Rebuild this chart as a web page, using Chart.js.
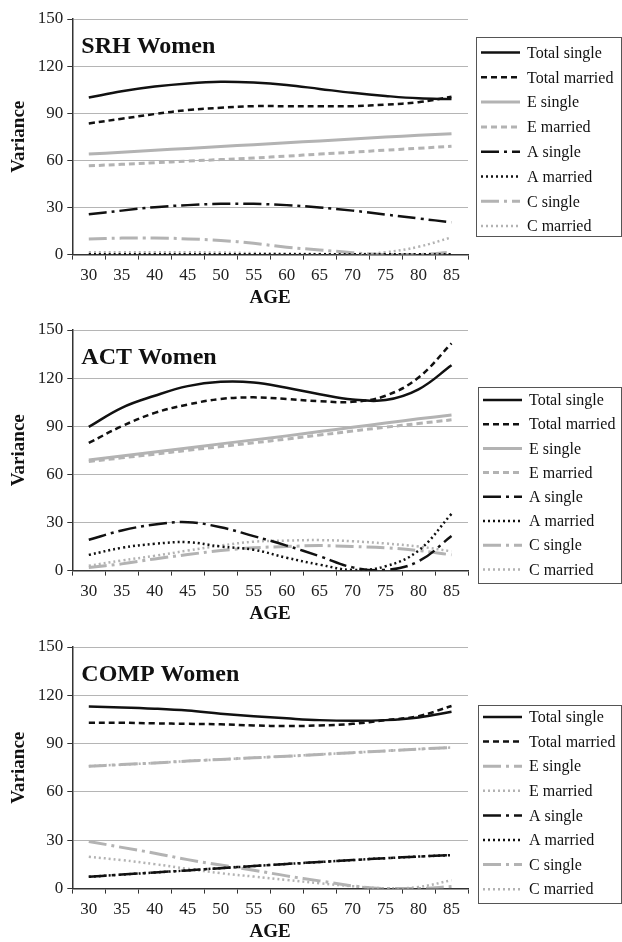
<!DOCTYPE html>
<html>
<head>
<meta charset="utf-8">
<script src="https://cdn.jsdelivr.net/npm/chart.js@4.4.1/dist/chart.umd.min.js"></script>
<style>
  body { margin: 0; background: #fff; width: 622px; height: 942px; overflow: hidden; position: relative; }
  canvas { position: absolute; left: 0; }
</style>
</head>
<body>
<canvas id="srh" width="622" height="314" style="top:0"></canvas>
<canvas id="act" width="622" height="320" style="top:310px"></canvas>
<canvas id="comp" width="622" height="322" style="top:626px"></canvas>
<script>
// Data
const ages = ['30', '35', '40', '45', '50', '55', '60', '65', '70', '75', '80', '85'];
const seriesNames = ['Total single', 'Total married', 'E single', 'E married', 'A single', 'A married', 'C single', 'C married'];
const yTicks = [0, 30, 60, 90, 120, 150];

// SRH Women
const srhTotalSingle  = [100, 104, 107, 109, 110, 109.5, 108, 105.5, 103, 101, 99.5, 99];
const srhTotalMarried = [83.5, 86.5, 89.5, 92, 93.5, 94.5, 94.5, 94.5, 94.5, 95.5, 97, 100.5];
const srhESingle      = [64, 65.2, 66.4, 67.6, 68.8, 70, 71.2, 72.4, 73.6, 74.8, 76, 77];
const srhEMarried     = [56.5, 57.5, 58.5, 59.5, 60.5, 61.5, 62.7, 64, 65.2, 66.5, 67.7, 69];
const srhASingle      = [25.7, 28, 30.2, 31.5, 32.3, 32.3, 31.5, 30, 28, 25.5, 23, 20.6];
const srhAMarried     = [0.3, 0.3, 0.3, 0.3, 0.3, 0.3, 0.3, 0.3, 0.3, 0.3, 0.3, 0.3];
const srhCSingle      = [10, 10.5, 10.6, 10, 9, 7.2, 4.7, 3, 1.2, 0, 0, 1.5];
const srhCMarried     = [1.5, 1.5, 1.5, 1.5, 1.3, 1, 0.7, 0.4, 0.2, 1.5, 5, 11];

// ACT Women
const actTotalSingle  = [89.6, 101.5, 109, 115, 117.7, 117.3, 114, 110, 106.7, 106.3, 113, 128];
const actTotalMarried = [79.6, 90, 98.3, 103.5, 107, 108, 107, 105.6, 105.2, 109, 120.4, 141.7];
const actESingle      = [69, 71.5, 74, 76.5, 79, 81.5, 84, 86.7, 89.3, 92, 94.6, 97];
const actEMarried     = [68, 70.3, 72.6, 75, 77.3, 79.7, 82, 84.5, 87, 89.4, 91.7, 94];
const actASingle      = [19.2, 25, 28.7, 30.2, 27, 21.5, 15.6, 9, 2, 0.4, 5.8, 21.5];
const actAMarried     = [9.8, 14.2, 16.7, 17.7, 15, 13, 8, 3.7, 0.4, 2.7, 12.5, 35.4];
const actCSingle      = [2, 4.2, 7.3, 10, 12.5, 14.2, 15, 15.6, 15, 14.2, 12.5, 9.8];
const actCMarried     = [3, 6.3, 9.2, 12.5, 15.6, 18, 18.7, 19, 18.3, 16.9, 15, 12];

// COMP Women
const compTotalSingle  = [113, 112.5, 111.7, 110.5, 108.6, 107, 105.7, 104.6, 104.2, 104.6, 106.3, 109.8];
const compTotalMarried = [103, 103, 102.6, 102.3, 102, 101.3, 100.9, 101.3, 102.3, 104.6, 107.1, 113.4];
const compESingle      = [76, 77, 78, 79.2, 80.2, 81.2, 82.2, 83.3, 84.4, 85.5, 86.6, 87.6];
const compEMarried     = [76, 77, 78, 79.2, 80.2, 81.2, 82.2, 83.3, 84.4, 85.5, 86.6, 87.6];
const compASingle      = [7.3, 8.7, 10, 11.3, 12.7, 14, 15.3, 16.5, 17.7, 18.9, 19.9, 20.8];
const compAMarried     = [7.3, 8.7, 10, 11.3, 12.7, 14, 15.3, 16.5, 17.7, 18.9, 19.9, 20.8];
const compCSingle      = [29.3, 25.6, 22, 18, 14.6, 11.4, 7.9, 4.8, 1.7, 0, 0, 1.3];
const compCMarried     = [19.8, 17.7, 15.2, 12.3, 9.6, 7.5, 5.4, 3.3, 1.5, 0.2, 1, 5.2];

// Line styles
const BLACK = '#111';
const GRAY = '#b3b3b3';
const SERIF = '"Liberation Serif", "Times New Roman", serif';
const solid = [];
const dashed = [6, 4];
const dashDot = [18, 5, 3, 5];
const dotted = [2, 3];

function style(color, dash, width) {
  return { color, dash, width };
}

const standardStyles = [
  style(BLACK, solid, 2.5),
  style(BLACK, dashed, 2.5),
  style(GRAY, solid, 3),
  style(GRAY, dashed, 3),
  style(BLACK, dashDot, 2.5),
  style(BLACK, dotted, 2.5),
  style(GRAY, dashDot, 3),
  style(GRAY, dotted, 2.5)
];

const compStyles = [
  style(BLACK, solid, 2.5),
  style(BLACK, dashed, 2.5),
  style(GRAY, dashDot, 3),
  style(GRAY, dotted, 2.5),
  style(BLACK, dashDot, 2.5),
  style(BLACK, dotted, 2.5),
  style(GRAY, dashDot, 3),
  style(GRAY, dotted, 2.5)
];

// Title in the plot, AGE label under the axis, boxed legend on the right
const panelDecor = {
  id: 'panelDecor',
  afterDraw(chart, args, opts) {
    const ctx = chart.ctx;
    const area = chart.chartArea;
    ctx.save();
    ctx.fillStyle = '#111';
    ctx.font = 'bold 24px ' + SERIF;
    ctx.textBaseline = 'alphabetic';
    ctx.fillText(opts.title, area.left + 9, area.top + 34);

    ctx.font = 'bold 19px ' + SERIF;
    ctx.textAlign = 'center';
    ctx.textBaseline = 'middle';
    ctx.fillText('AGE', (area.left + area.right) / 2, area.bottom + 43);
    ctx.textAlign = 'left';

    // legend box
    const box = opts.box;
    ctx.strokeStyle = '#555';
    ctx.lineWidth = 1;
    ctx.strokeRect(box.x + 0.5, box.y + 0.5, box.w, box.h);
    ctx.font = '16px ' + SERIF;
    chart.data.datasets.forEach((ds, i) => {
      const y = box.y + box.first + i * box.step;
      ctx.beginPath();
      ctx.strokeStyle = ds.borderColor;
      ctx.lineWidth = ds.borderWidth;
      ctx.setLineDash(ds.borderDash);
      ctx.moveTo(box.x + 5, y);
      ctx.lineTo(box.x + 44, y);
      ctx.stroke();
      ctx.setLineDash([]);
      ctx.fillStyle = '#111';
      ctx.fillText(ds.label, box.x + 51, y + 1);
    });
    ctx.restore();
  }
};

function makeChart(id, title, series, styles, padding, box) {
  const datasets = series.map((values, i) => ({
    label: seriesNames[i],
    data: values,
    borderColor: styles[i].color,
    borderDash: styles[i].dash,
    borderWidth: styles[i].width,
    pointRadius: 0,
    tension: 0.4,
    fill: false
  }));

  return new Chart(document.getElementById(id), {
    type: 'line',
    data: { labels: ages, datasets },
    options: {
      responsive: false,
      animation: false,
      layout: { padding },
      plugins: {
        legend: { display: false },
        tooltip: { enabled: false },
        panelDecor: { title, box }
      },
      scales: {
        x: {
          offset: true,
          grid: { display: true, offset: true, drawOnChartArea: false, tickLength: 5, color: '#333' },
          border: { color: '#333', width: 1.5 },
          ticks: { font: { family: SERIF, size: 17 }, color: '#222', padding: 6, maxRotation: 0 },
          title: { display: false }
        },
        y: {
          min: 0,
          max: 150,
          afterBuildTicks: axis => { axis.ticks = yTicks.map(v => ({ value: v })); },
          grid: { color: '#b5b5b5', tickColor: '#333', tickLength: 5, lineWidth: 1 },
          border: { color: '#333', width: 1.5 },
          ticks: { font: { family: SERIF, size: 17 }, color: '#222', padding: 4 },
          title: { display: true, text: 'Variance', font: { family: SERIF, size: 19, weight: 'bold' }, color: '#111', padding: { top: 0, bottom: 3 } }
        }
      }
    },
    plugins: [panelDecor]
  });
}

makeChart('srh', 'SRH Women',
  [srhTotalSingle, srhTotalMarried, srhESingle, srhEMarried, srhASingle, srhAMarried, srhCSingle, srhCMarried],
  standardStyles,
  { top: 19, right: 154, left: 8, bottom: 22 },
  { x: 476, y: 37, w: 145, h: 199, first: 15.5, step: 24.8 });

makeChart('act', 'ACT Women',
  [actTotalSingle, actTotalMarried, actESingle, actEMarried, actASingle, actAMarried, actCSingle, actCMarried],
  standardStyles,
  { top: 20, right: 154, left: 8, bottom: 22 },
  { x: 478, y: 77, w: 143, h: 196, first: 13, step: 24.2 });

makeChart('comp', 'COMP Women',
  [compTotalSingle, compTotalMarried, compESingle, compEMarried, compASingle, compAMarried, compCSingle, compCMarried],
  compStyles,
  { top: 21, right: 154, left: 8, bottom: 22 },
  { x: 478, y: 79, w: 143, h: 198, first: 12, step: 24.6 });
</script>
</body>
</html>
